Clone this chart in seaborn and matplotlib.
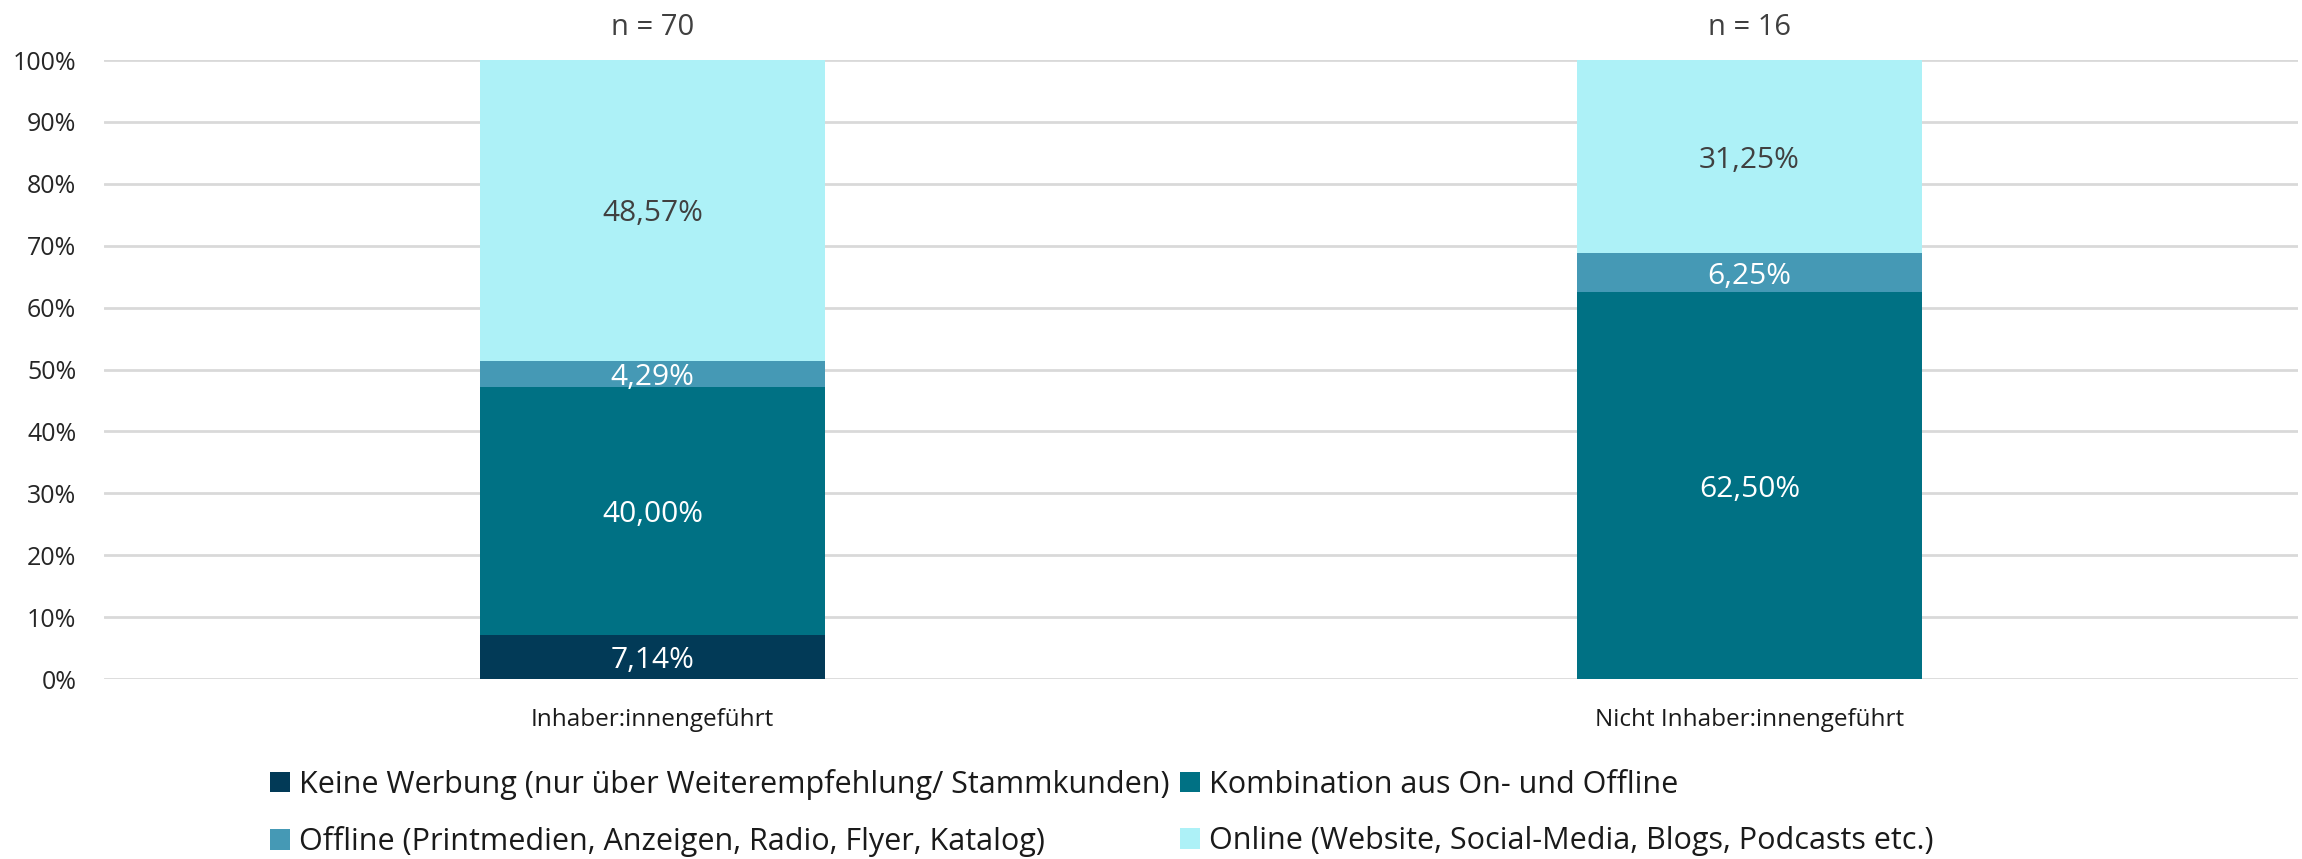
import matplotlib
matplotlib.use("Agg")
import matplotlib.pyplot as plt
from matplotlib.patches import Patch
import seaborn as sns
import numpy as np

# Data
categories = ["Inhaber:innengeführt", "Nicht Inhaber:innengeführt"]
sample_sizes = ["n = 70", "n = 16"]
series_names = [
    "Keine Werbung (nur über Weiterempfehlung/ Stammkunden)",
    "Kombination aus On- und Offline",
    "Offline (Printmedien, Anzeigen, Radio, Flyer, Katalog)",
    "Online (Website, Social-Media, Blogs, Podcasts etc.)",
]
keine_werbung = [7.14, 0.00]
kombination = [40.00, 62.50]
offline = [4.29, 6.25]
online = [48.57, 31.25]

colors = ["#023A57", "#007184", "#4599B5", "#ADF1F7"]
label_colors = ["white", "white", "white", "#404040"]

sns.set_theme(style="white")
plt.rcParams["font.family"] = ["Open Sans", "DejaVu Sans"]

fig = plt.figure(figsize=(23.02, 8.59), dpi=100)
ax = fig.add_axes([0.0452, 0.2095, 0.953, 0.7206])

values = np.array([keine_werbung, kombination, offline, online])
cumulative = np.cumsum(values, axis=0)
bar_width = 0.314

# Stacked bars: draw cumulative totals from the top series down so each
# lower segment is painted over the one above it.
for k in range(len(series_names) - 1, -1, -1):
    sns.barplot(x=categories, y=cumulative[k], color=colors[k], saturation=1,
                width=bar_width, ax=ax, linewidth=0, edgecolor="none")

# Segment labels
for k in range(len(series_names)):
    for i in range(len(categories)):
        v = values[k, i]
        if v <= 0:
            continue
        y = cumulative[k, i] - v / 2
        ax.text(i, y, f"{v:.2f}%".replace(".", ","), ha="center",
                va="center_baseline", fontsize=21.5, color=label_colors[k])

# Sample sizes above the bars
for i, n in enumerate(sample_sizes):
    ax.annotate(n, xy=(i, 100), xytext=(0, 26), textcoords="offset points",
                ha="center", va="center_baseline", fontsize=21, color="#404040",
                annotation_clip=False)

ax.set_ylim(0, 100)
ax.set_xlim(-0.5, 1.5)
ax.set_yticks(np.arange(0, 101, 10))
ax.set_yticklabels([f"{t}%" for t in range(0, 101, 10)])
ax.yaxis.grid(True, color="#D9D9D9", linewidth=2)
ax.set_axisbelow(True)
for s in ax.spines.values():
    s.set_visible(False)
ax.tick_params(axis="y", length=0, pad=20, labelsize=18, labelcolor="#262626")
ax.tick_params(axis="x", length=0, pad=21, labelsize=17.5, labelcolor="#1a1a1a")
ax.set_xlabel("")
ax.set_ylabel("")

# Legend in two rows, filled row by row
order = [0, 2, 1, 3]
handles = [Patch(facecolor=colors[k], edgecolor="none") for k in order]
labels = [series_names[k] for k in order]
fig.legend(handles, labels, ncol=2, loc="upper left",
           bbox_to_anchor=(0.1173, 0.105), frameon=False, fontsize=22,
           handlelength=0.65, handleheight=0.65, handletextpad=0.3,
           columnspacing=0.35, labelspacing=0.86, borderpad=0, borderaxespad=0,
           labelcolor="#1a1a1a")

fig.savefig("out.png", dpi=100)
